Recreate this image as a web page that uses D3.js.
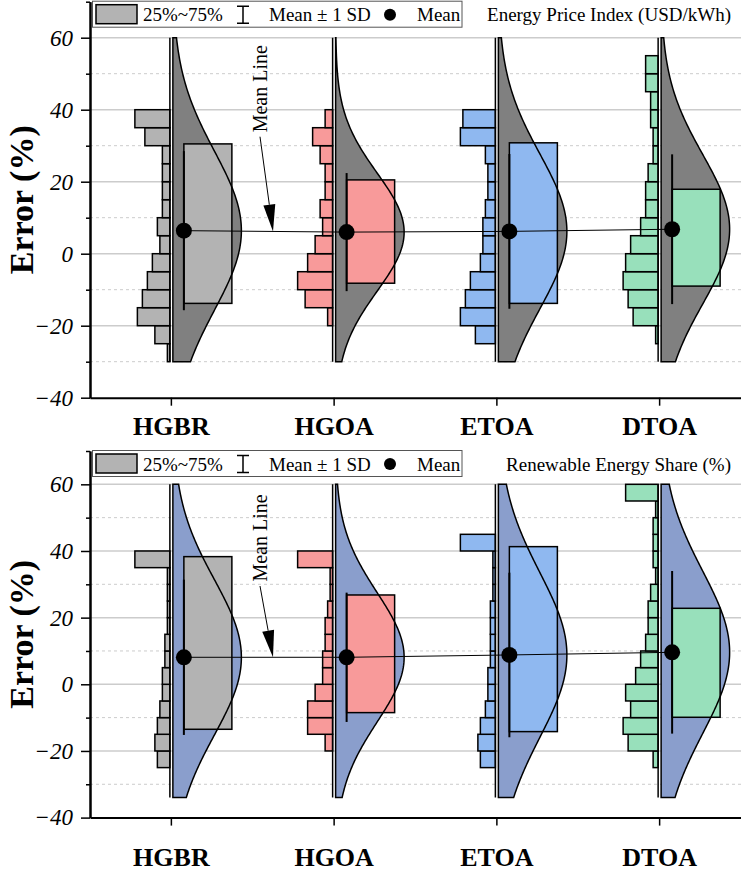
<!DOCTYPE html>
<html>
<head>
<meta charset="utf-8">
<script src="https://cdn.jsdelivr.net/npm/d3@7"></script>
<style>
  body { margin: 0; background: #fff; }
  text { font-family: "Liberation Serif", "Times New Roman", serif; }
</style>
</head>
<body>
<svg id="chart" width="741" height="886"></svg>
<script>
// ---- data ----
const categories = ["HGBR", "HGOA", "ETOA", "DTOA"];
const binStarts = [-30, -25, -20, -15, -10, -5, 0, 5, 10, 15, 20, 25, 30, 35, 40, 45, 50, 55];
const majorTicks = [-40, -20, 0, 20, 40, 60];
const minorTicks = [-30, -10, 10, 30, 50, 70];

// Energy Price Index (USD/kWh)
const priceHist = [
  [1, 6, 13, 11, 9, 7, 4, 5, 3, 3, 3, 3, 10, 14, 0, 0, 0, 0],
  [0, 0, 2, 11, 14, 10, 7, 4, 5, 3, 3, 5, 8, 3, 0, 0, 0, 0],
  [0, 8, 14, 12, 10, 6, 5, 5, 4, 3, 3, 4, 14, 13, 0, 0, 0, 0],
  [0, 1, 10, 12, 14, 13, 11, 7, 5, 5, 4, 2, 2, 3, 3, 5, 5, 0]
];
const priceMean = [6.4, 6.0, 6.2, 6.8];
const priceSD = [22.1, 16.4, 21.5, 20.8];
const priceQ1 = [-13.8, -8.2, -13.8, -9.0];
const priceQ3 = [30.5, 20.5, 30.8, 17.9];
const priceRange = [-30, 60];

// Renewable Energy Share (%)
const shareHist = [
  [0, 5, 6, 5, 4, 3, 3, 2, 2, 1, 1, 1, 1, 14, 0, 0, 0, 0],
  [0, 0, 3, 10, 10, 7, 4, 4, 3, 3, 2, 1, 1, 14, 0, 0, 0, 0],
  [0, 6, 7, 6, 4, 3, 3, 2, 2, 2, 2, 1, 1, 1, 14, 0, 0, 0],
  [0, 2, 12, 14, 11, 13, 9, 7, 5, 4, 4, 3, 1, 2, 2, 2, 1, 13]
];
const shareMean = [8.1, 8.1, 8.8, 9.6];
const shareSD = [23.3, 19.4, 24.7, 24.4];
const shareQ1 = [-13.5, -8.5, -14.2, -9.9];
const shareQ3 = [38.3, 26.8, 41.3, 22.8];
const shareRange = [-34, 60];

// ---- styles ----
const groupFill = ["#b3b3b3", "#f89a9a", "#8fb8f0", "#98e0bb"];
const serif = '"Liberation Serif", "Times New Roman", serif';

const svg = d3.select("#chart");
const x = d3.scaleBand().domain(categories).range([90, 741]);
const cxOf = c => x(c) + x.bandwidth() / 2;
const hx = d3.scaleLinear().domain([0, 14]).range([0, 35]);

const panels = [
  { title: "Energy Price Index (USD/kWh)", hist: priceHist, mean: priceMean, sd: priceSD,
    q1: priceQ1, q3: priceQ3, range: priceRange, top: 1.7, bottom: 397.7, violin: "#808080", labelPad: 11 },
  { title: "Renewable Energy Share (%)", hist: shareHist, mean: shareMean, sd: shareSD,
    q1: shareQ1, q3: shareQ3, range: shareRange, top: 451, bottom: 817.6, violin: "#8a9ecc", labelPad: 22 }
];

panels.forEach(p => {
  const g = svg.append("g");
  const y = d3.scaleLinear().domain([-40, 70]).range([p.bottom, p.top]);

  // grid
  g.append("g").selectAll("line").data(majorTicks.filter(t => t > -40)).join("line")
    .attr("x1", 90).attr("x2", 741).attr("y1", d => y(d)).attr("y2", d => y(d))
    .attr("stroke", "#cccccc").attr("stroke-width", 1.5);
  g.append("g").selectAll("line").data(minorTicks.filter(t => t < 70)).join("line")
    .attr("x1", 90).attr("x2", 741).attr("y1", d => y(d)).attr("y2", d => y(d))
    .attr("stroke", "#cccccc").attr("stroke-width", 1).attr("stroke-dasharray", "3,3");

  const dots = categories.map((c, i) => [cxOf(c) + 12.5, y(p.mean[i])]);

  categories.forEach((c, i) => {
    const cx = cxOf(c);
    const bins = binStarts.map((b, j) => ({ b, n: p.hist[i][j] })).filter(d => d.n > 0);

    // histogram to the left
    g.append("g").selectAll("rect").data(bins).join("rect")
      .attr("x", d => cx - 1.5 - hx(d.n))
      .attr("y", d => y(d.b + 5))
      .attr("width", d => hx(d.n))
      .attr("height", d => y(d.b) - y(d.b + 5))
      .attr("fill", groupFill[i]).attr("stroke", "#000").attr("stroke-width", 1.5);
    g.append("line")
      .attr("x1", cx - 1.5).attr("x2", cx - 1.5)
      .attr("y1", y(p.range[0])).attr("y2", y(p.range[1]))
      .attr("stroke", "#000").attr("stroke-width", 1.5);

    // half violin (normal curve from mean and SD)
    const vs = d3.range(p.range[0], p.range[1] + 0.01, 0.5);
    const w = v => 68.5 * Math.exp(-0.5 * Math.pow((v - p.mean[i]) / p.sd[i], 2));
    const area = d3.area().y(v => y(v)).x0(cx + 1.5).x1(v => cx + 1.5 + w(v));
    g.append("path").datum(vs).attr("d", area).attr("fill", p.violin);

    // box 25%~75%
    g.append("rect")
      .attr("x", cx + 12.5).attr("width", 48)
      .attr("y", y(p.q3[i])).attr("height", y(p.q1[i]) - y(p.q3[i]))
      .attr("fill", groupFill[i]).attr("stroke", "#000").attr("stroke-width", 1.5);

    // violin outline
    const pts = [[cx + 1.5, y(p.range[1])]]
      .concat(vs.slice().reverse().map(v => [cx + 1.5 + w(v), y(v)]))
      .concat([[cx + 1.5, y(p.range[0])]]);
    g.append("path").attr("d", d3.line()(pts) + "Z")
      .attr("fill", "none").attr("stroke", "#000").attr("stroke-width", 1.5);

    // mean +- 1 SD
    g.append("line")
      .attr("x1", cx + 12.5).attr("x2", cx + 12.5)
      .attr("y1", y(p.mean[i] - p.sd[i])).attr("y2", y(p.mean[i] + p.sd[i]))
      .attr("stroke", "#000").attr("stroke-width", 2);
  });

  // mean line
  g.append("path").attr("d", d3.line()(dots))
    .attr("fill", "none").attr("stroke", "#000").attr("stroke-width", 1);
  g.append("g").selectAll("circle").data(dots).join("circle")
    .attr("cx", d => d[0]).attr("cy", d => d[1]).attr("r", 8).attr("fill", "#000");

  // "Mean Line" annotation
  const tipX = 273;
  const t = (tipX - dots[0][0]) / (dots[1][0] - dots[0][0]);
  const tipY = dots[0][1] + t * (dots[1][1] - dots[0][1]);
  const sx = 260, sy = p.top + 135;
  const len = Math.hypot(tipX - sx, tipY - sy);
  const ux = (tipX - sx) / len, uy = (tipY - sy) / len;
  const bx = tipX - ux * 27, by = tipY - uy * 27;
  g.append("line").attr("x1", sx).attr("y1", sy).attr("x2", bx).attr("y2", by)
    .attr("stroke", "#000").attr("stroke-width", 1);
  g.append("path")
    .attr("d", `M${tipX},${tipY}L${bx - uy * 6},${by + ux * 6}L${bx + uy * 6},${by - ux * 6}Z`)
    .attr("fill", "#000");
  g.append("text")
    .attr("transform", `translate(267,${p.top + 87}) rotate(-90)`)
    .attr("text-anchor", "middle").attr("font-size", 20).text("Mean Line");

  // axes
  const yMajor = g.append("g").attr("transform", "translate(90,0)")
    .call(d3.axisLeft(y).tickValues(majorTicks).tickSize(9).tickSizeOuter(0).tickPadding(8));
  yMajor.selectAll("text")
    .style("font-family", serif).style("font-style", "italic").style("font-size", "23px")
    .attr("fill", "#000");
  const yMinor = g.append("g").attr("transform", "translate(90,0)")
    .call(d3.axisLeft(y).tickValues(minorTicks).tickSize(4).tickSizeOuter(0).tickFormat(""));
  [yMajor, yMinor].forEach(a => {
    a.select(".domain").attr("stroke-width", 2);
    a.selectAll(".tick line").attr("stroke-width", 1.5);
  });

  const xAxis = g.append("g").attr("transform", `translate(0,${p.bottom})`)
    .call(d3.axisBottom(x).tickSize(8).tickSizeOuter(0).tickPadding(p.labelPad));
  xAxis.select(".domain").attr("stroke-width", 2);
  xAxis.selectAll(".tick line").attr("stroke-width", 1.5);
  xAxis.selectAll("text")
    .style("font-family", serif).style("font-weight", "bold").style("font-size", "26px")
    .attr("fill", "#000");

  g.append("text")
    .attr("transform", `translate(33,${(p.top + p.bottom) / 2}) rotate(-90)`)
    .attr("text-anchor", "middle").attr("font-size", 34).attr("font-weight", "bold")
    .text("Error (%)");

  // legend
  const L = p.top - 0.5;
  const lg = g.append("g");
  lg.append("rect").attr("x", 92.5).attr("y", L).attr("width", 369.5).attr("height", 26)
    .attr("fill", "#fff").attr("stroke", "#555").attr("stroke-width", 1);
  lg.append("rect").attr("x", 96).attr("y", L + 3.5).attr("width", 41).attr("height", 19)
    .attr("fill", groupFill[0]).attr("stroke", "#000").attr("stroke-width", 1.5);
  lg.append("text").attr("x", 143).attr("y", L + 20).attr("font-size", 19).text("25%~75%");
  lg.append("path").attr("d", `M237,${L + 5}H249M243,${L + 5}V${L + 22}M237,${L + 22}H249`)
    .attr("stroke", "#000").attr("stroke-width", 1.5).attr("fill", "none");
  lg.append("text").attr("x", 269).attr("y", L + 20).attr("font-size", 19).text("Mean \u00b1 1 SD");
  lg.append("circle").attr("cx", 390).attr("cy", L + 13.5).attr("r", 6).attr("fill", "#000");
  lg.append("text").attr("x", 417).attr("y", L + 20).attr("font-size", 19).text("Mean");
  g.append("text").attr("x", 731).attr("y", L + 20).attr("text-anchor", "end")
    .attr("font-size", 19).text(p.title);
});
</script>
</body>
</html>
